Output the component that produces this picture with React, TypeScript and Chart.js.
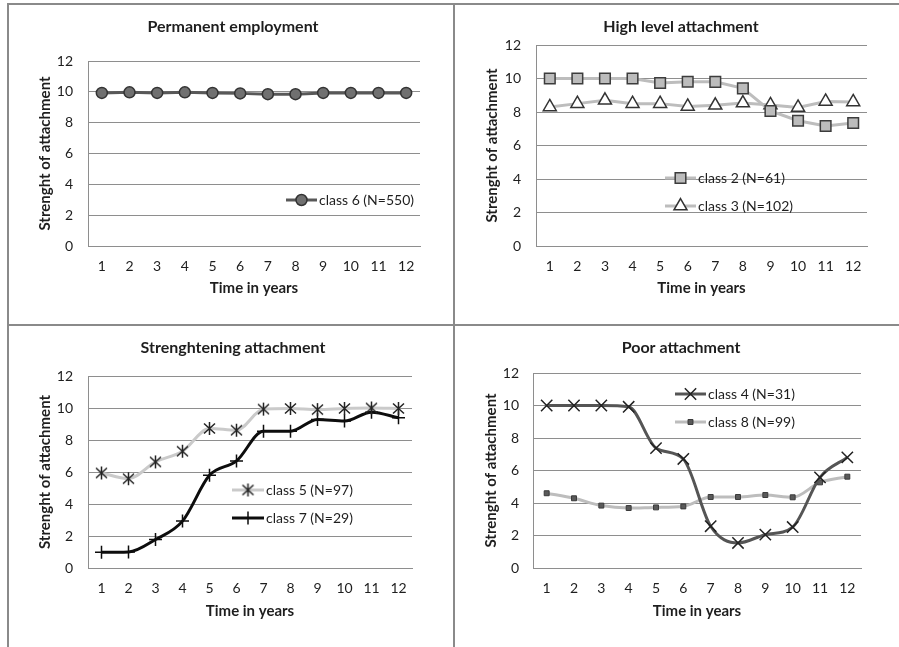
import React, { useEffect, useRef } from 'react';
import { Chart, registerables } from 'chart.js';
import { drawPoint } from 'chart.js/helpers';

Chart.register(...registerables);

// ---------- data ----------
const years = ['1', '2', '3', '4', '5', '6', '7', '8', '9', '10', '11', '12'];
const yMin = 0;
const yMax = 12;
const yStep = 2;

const class6 = [9.93, 9.97, 9.93, 9.97, 9.93, 9.9, 9.85, 9.85, 9.93, 9.93, 9.93, 9.93];
const class2 = [10, 10, 10, 10, 9.73, 9.81, 9.8, 9.41, 8.06, 7.48, 7.16, 7.34];
const class3 = [8.3, 8.5, 8.7, 8.5, 8.5, 8.33, 8.4, 8.53, 8.42, 8.27, 8.63, 8.6];
const class5 = [5.94, 5.58, 6.63, 7.3, 8.72, 8.61, 9.93, 9.97, 9.9, 9.97, 10, 9.97];
const class7 = [0.98, 1.0, 1.78, 2.93, 5.79, 6.69, 8.55, 8.55, 9.28, 9.18, 9.74, 9.39];
const class4 = [10, 10, 10, 9.92, 7.38, 6.71, 2.57, 1.54, 2.05, 2.52, 5.58, 6.81];
const class8 = [4.6, 4.29, 3.84, 3.69, 3.73, 3.79, 4.37, 4.37, 4.49, 4.35, 5.27, 5.62];

const xTitle = 'Time in years';
const yTitle = 'Strenght of attachment';

// ---------- styling ----------
const FONT = 'Lato, "DejaVu Sans", sans-serif';
const TEXT = '#1e1e1e';
const GRID = '#8e8e8e';
const BORDER = '#8a8a8a';

// Excel-like star marker: an X with a vertical bar
function makeStar(): HTMLCanvasElement {
  const c = document.createElement('canvas');
  const s = 15;
  c.width = s;
  c.height = s;
  const g = c.getContext('2d')!;
  g.strokeStyle = '#222222';
  g.lineWidth = 1.5;
  g.beginPath();
  g.moveTo(2, 2.5);
  g.lineTo(13, 12.5);
  g.moveTo(13, 2.5);
  g.lineTo(2, 12.5);
  g.moveTo(7.5, 1);
  g.lineTo(7.5, 14);
  g.stroke();
  return c;
}
const starImg = makeStar();

const inlineLegend = {
  id: 'inlineLegend',
  afterDatasetsDraw(chart: any, _args: any, opts: any) {
    const { ctx } = chart;
    chart.data.datasets.forEach((ds: any, i: number) => {
      const yy = opts.y + i * opts.gap;
      ctx.save();
      ctx.strokeStyle = ds.borderColor;
      ctx.lineWidth = ds.borderWidth;
      ctx.beginPath();
      ctx.moveTo(opts.x, yy);
      ctx.lineTo(opts.x + opts.sample, yy);
      ctx.stroke();
      ctx.fillStyle = ds.pointBackgroundColor;
      ctx.strokeStyle = ds.pointBorderColor;
      ctx.lineWidth = ds.pointBorderWidth;
      drawPoint(
        ctx,
        { pointStyle: ds.pointStyle, radius: ds.pointRadius, borderWidth: ds.pointBorderWidth, rotation: 0 } as any,
        opts.x + opts.sample / 2,
        yy
      );
      ctx.fillStyle = TEXT;
      ctx.font = `14px ${FONT}`;
      ctx.textAlign = 'left';
      ctx.textBaseline = 'middle';
      ctx.fillText(ds.label, opts.x + opts.sample + 2, yy);
      ctx.restore();
    });
  },
};

type Layout = {
  W: number; H: number; L: number; R: number; T: number; B: number; padL: number;
  titleY: number; gap: number; yTitleX: number; xLabelY: number; xTitleY: number;
};

function makeConfig(title: string, datasets: any[], lay: Layout, legend: any, smooth: boolean) {
  const titleFont = 16;
  const titleLh = titleFont * 1.2;
  const tickLh = 14 * 1.2;
  const axFont = 15;
  const axLh = axFont * 1.2;
  return {
    type: 'line',
    data: {
      labels: years,
      datasets: datasets.map((d) => ({
        ...d,
        tension: smooth ? 0.4 : 0,
        cubicInterpolationMode: smooth ? 'monotone' : 'default',
        fill: false,
        pointHoverRadius: d.pointRadius,
        yAxisID: 'y',
      })),
    },
    options: {
      responsive: false,
      animation: false,
      events: [],
      layout: { padding: { left: lay.padL, top: 0, bottom: 0, right: 0 } },
      plugins: {
        legend: { display: false },
        tooltip: { enabled: false },
        title: {
          display: true,
          text: title,
          color: TEXT,
          font: { family: FONT, size: titleFont, weight: 'bold' },
          padding: { top: lay.titleY - titleLh / 2, bottom: lay.T - lay.titleY - titleLh / 2 },
        },
        inlineLegend: legend,
      },
      scales: {
        x: {
          type: 'category',
          offset: true,
          grid: { display: false, drawTicks: false },
          border: { display: true, color: GRID, width: 1 },
          ticks: {
            color: TEXT,
            font: { family: FONT, size: 14 },
            padding: lay.xLabelY - lay.B - tickLh / 2,
            maxRotation: 0,
            autoSkip: false,
          },
          title: {
            display: true,
            text: xTitle,
            color: TEXT,
            font: { family: FONT, size: axFont, weight: 'bold' },
            padding: { top: 0, bottom: lay.H - lay.xTitleY - axLh / 2 },
          },
          afterFit(scale: any) {
            scale.height = lay.H - lay.B;
          },
        },
        y: {
          min: yMin,
          max: yMax,
          grid: { color: GRID, lineWidth: 1, drawTicks: false },
          border: { display: true, color: GRID, width: 1 },
          ticks: {
            stepSize: yStep,
            color: TEXT,
            font: { family: FONT, size: 14 },
            padding: lay.gap,
          },
          title: {
            display: true,
            text: yTitle,
            color: TEXT,
            font: { family: FONT, size: axFont, weight: 'bold' },
            padding: { top: lay.yTitleX - lay.padL - axLh / 2, bottom: 0 },
          },
          afterFit(scale: any) {
            scale.width = lay.L - lay.padL;
          },
        },
        // invisible spacer on the right so the title centres over the whole panel
        spacer: {
          type: 'linear',
          position: 'right',
          display: true,
          grid: { display: false, drawTicks: false },
          border: { display: false },
          ticks: { display: false },
          afterFit(scale: any) {
            scale.width = lay.W - lay.R;
          },
        },
      },
    },
    plugins: [inlineLegend],
  };
}

function Panel(props: { left: number; top: number; config: any; lay: Layout }) {
  const ref = useRef<HTMLCanvasElement | null>(null);
  useEffect(() => {
    if (!ref.current) return;
    const chart = new Chart(ref.current, props.config);
    return () => chart.destroy();
  }, []);
  return (
    <canvas
      ref={ref}
      width={props.lay.W}
      height={props.lay.H}
      style={{ position: 'absolute', left: props.left, top: props.top, width: props.lay.W, height: props.lay.H }}
    />
  );
}

const lay1: Layout = { W: 454, H: 325, L: 88, R: 420, T: 61, B: 246, padL: 12, titleY: 27, gap: 15, yTitleX: 45, xLabelY: 266, xTitleY: 288 };
const lay2: Layout = { W: 445, H: 325, L: 82, R: 413, T: 45, B: 246, padL: 9, titleY: 27, gap: 15, yTitleX: 38, xLabelY: 266, xTitleY: 288 };
const lay3: Layout = { W: 454, H: 322, L: 88, R: 412, T: 51, B: 243, padL: 12, titleY: 23, gap: 15, yTitleX: 45, xLabelY: 263, xTitleY: 286 };
const lay4: Layout = { W: 445, H: 322, L: 79, R: 407, T: 48, B: 243, padL: 9, titleY: 23, gap: 14, yTitleX: 37, xLabelY: 263, xTitleY: 286 };

const cfg1 = makeConfig(
  'Permanent employment',
  [
    {
      label: 'class 6 (N=550)', data: class6, borderColor: '#585858', borderWidth: 3,
      pointStyle: 'circle', pointRadius: 5.5, pointBackgroundColor: '#707070', pointBorderColor: '#333333', pointBorderWidth: 1.5,
    },
  ],
  lay1,
  { x: 286, y: 200, gap: 28, sample: 31 },
  false
);

const cfg2 = makeConfig(
  'High level attachment',
  [
    {
      label: 'class 2 (N=61)', data: class2, borderColor: '#bdbdbd', borderWidth: 3,
      pointStyle: 'rect', pointRadius: 7.5, pointBackgroundColor: '#bcbcbc', pointBorderColor: '#3c3c3c', pointBorderWidth: 1.5,
    },
    {
      label: 'class 3 (N=102)', data: class3, borderColor: '#bdbdbd', borderWidth: 3,
      pointStyle: 'triangle', pointRadius: 7.5, pointBackgroundColor: '#ffffff', pointBorderColor: '#333333', pointBorderWidth: 1.5,
    },
  ],
  lay2,
  { x: 211, y: 178, gap: 28, sample: 31 },
  false
);

const cfg3 = makeConfig(
  'Strenghtening attachment',
  [
    {
      label: 'class 5 (N=97)', data: class5, borderColor: '#cacaca', borderWidth: 3,
      pointStyle: starImg, pointRadius: 7, pointBackgroundColor: '#222222', pointBorderColor: '#222222', pointBorderWidth: 1.5,
    },
    {
      label: 'class 7 (N=29)', data: class7, borderColor: '#0d0d0d', borderWidth: 3,
      pointStyle: 'cross', pointRadius: 6.5, pointBackgroundColor: '#0d0d0d', pointBorderColor: '#0d0d0d', pointBorderWidth: 1.5,
    },
  ],
  lay3,
  { x: 232, y: 165, gap: 28, sample: 32 },
  true
);

const cfg4 = makeConfig(
  'Poor attachment',
  [
    {
      label: 'class 4 (N=31)', data: class4, borderColor: '#555555', borderWidth: 3,
      pointStyle: 'crossRot', pointRadius: 8, pointBackgroundColor: '#222222', pointBorderColor: '#222222', pointBorderWidth: 1.5,
    },
    {
      label: 'class 8 (N=99)', data: class8, borderColor: '#bdbdbd', borderWidth: 3,
      pointStyle: 'rect', pointRadius: 3.5, pointBackgroundColor: '#5a5a5a', pointBorderColor: '#3a3a3a', pointBorderWidth: 1,
    },
  ],
  lay4,
  { x: 221, y: 69, gap: 28, sample: 31 },
  true
);

export default function App() {
  const line = (s: React.CSSProperties) => (
    <div style={{ position: 'absolute', background: BORDER, zIndex: 2, ...s }} />
  );
  return (
    <div style={{ position: 'absolute', left: 0, top: 0, width: 899, height: 647, background: '#ffffff', overflow: 'hidden' }}>
      <Panel left={0} top={0} config={cfg1} lay={lay1} />
      <Panel left={454} top={0} config={cfg2} lay={lay2} />
      <Panel left={0} top={325} config={cfg3} lay={lay3} />
      <Panel left={454} top={325} config={cfg4} lay={lay4} />
      {line({ left: 7, top: 3, width: 892, height: 2 })}
      {line({ left: 7, top: 3, width: 2, height: 644 })}
      {line({ left: 453, top: 3, width: 2, height: 644 })}
      {line({ left: 7, top: 324, width: 892, height: 2 })}
    </div>
  );
}
